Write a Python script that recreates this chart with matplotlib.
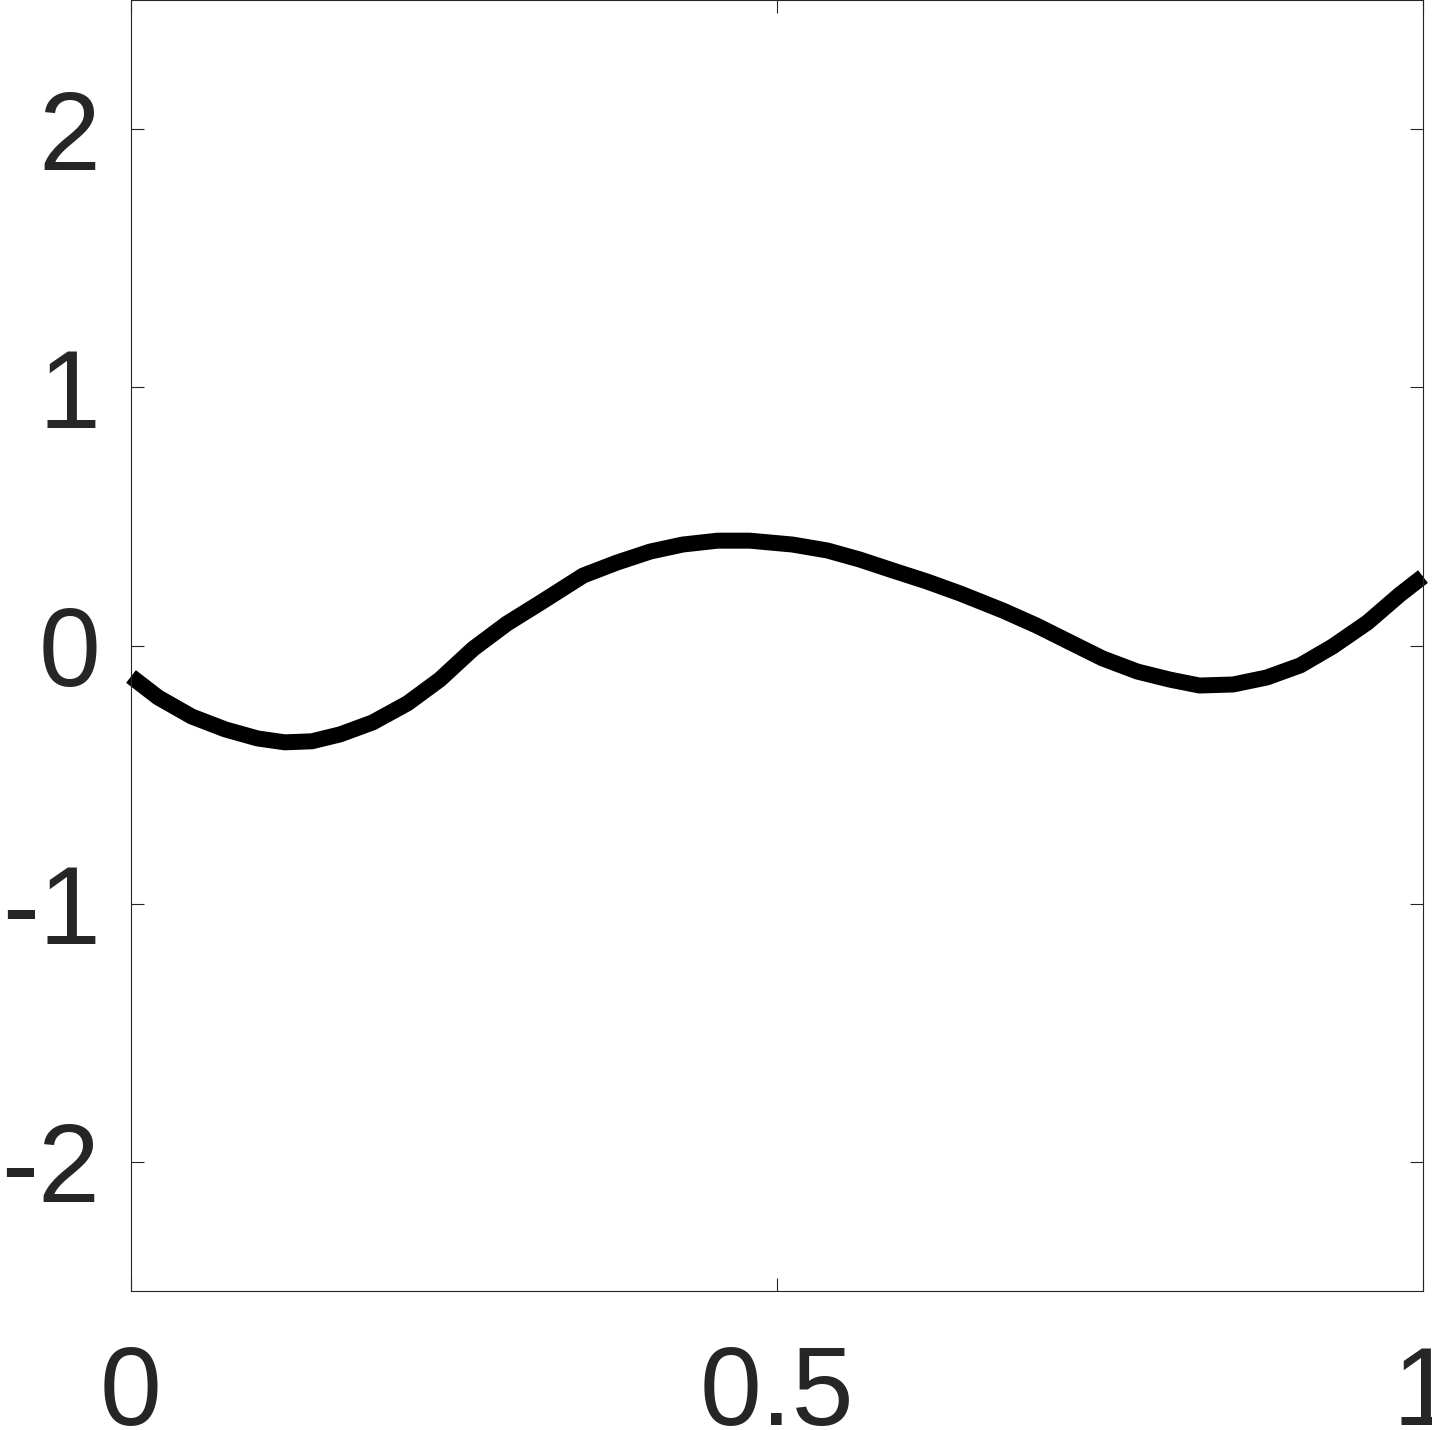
import numpy as np
from matplotlib import pyplot as plt

# curve
x_vals = [0.000, 0.021, 0.047, 0.073, 0.098, 0.119, 0.140, 0.162, 0.187, 0.214,
          0.239, 0.265, 0.291, 0.317, 0.350, 0.376, 0.402, 0.427, 0.454, 0.479,
          0.512, 0.539, 0.564, 0.590, 0.616, 0.642, 0.675, 0.701, 0.727, 0.752,
          0.779, 0.804, 0.827, 0.853, 0.879, 0.905, 0.930, 0.957, 0.982, 1.000]
y_vals = [-0.120, -0.201, -0.275, -0.325, -0.360, -0.375, -0.371, -0.344, -0.298, -0.224,
          -0.132, -0.012, 0.085, 0.166, 0.271, 0.321, 0.364, 0.391, 0.406, 0.406,
          0.391, 0.368, 0.333, 0.290, 0.248, 0.201, 0.135, 0.077, 0.012, -0.050,
          -0.101, -0.132, -0.155, -0.151, -0.124, -0.077, -0.004, 0.089, 0.197, 0.267]

x_ticks = [0, 0.5, 1]
x_labels = ['0', '0.5', '1']
y_ticks = [-2, -1, 0, 1, 2]
y_labels = ['-2', '-1', '0', '1', '2']

TXT = '#262626'

fig = plt.figure(figsize=(14.32, 14.30), dpi=100)
ax = fig.add_axes([131 / 1432, 1 - 1291 / 1430, 1292 / 1432, 1291 / 1430])

ax.plot(x_vals, y_vals, color='black', lw=11.5, solid_capstyle='butt',
        solid_joinstyle='round', clip_on=False)

ax.set_xlim(0, 1)
ax.set_ylim(-2.5, 2.5)
ax.set_xticks(x_ticks)
ax.set_xticklabels(x_labels)
ax.set_yticks(y_ticks)
ax.set_yticklabels(y_labels)

for sp in ax.spines.values():
    sp.set_color(TXT)
    sp.set_linewidth(0.8)

ax.tick_params(direction='in', length=9.5, width=0.8, color=TXT,
               top=True, right=True, labelcolor=TXT, labelsize=80)
ax.tick_params(axis='y', pad=22)
ax.tick_params(axis='x', pad=38)
for lbl in ax.get_xticklabels() + ax.get_yticklabels():
    lbl.set_family('Liberation Sans')

fig.savefig('out.png', dpi=100)
